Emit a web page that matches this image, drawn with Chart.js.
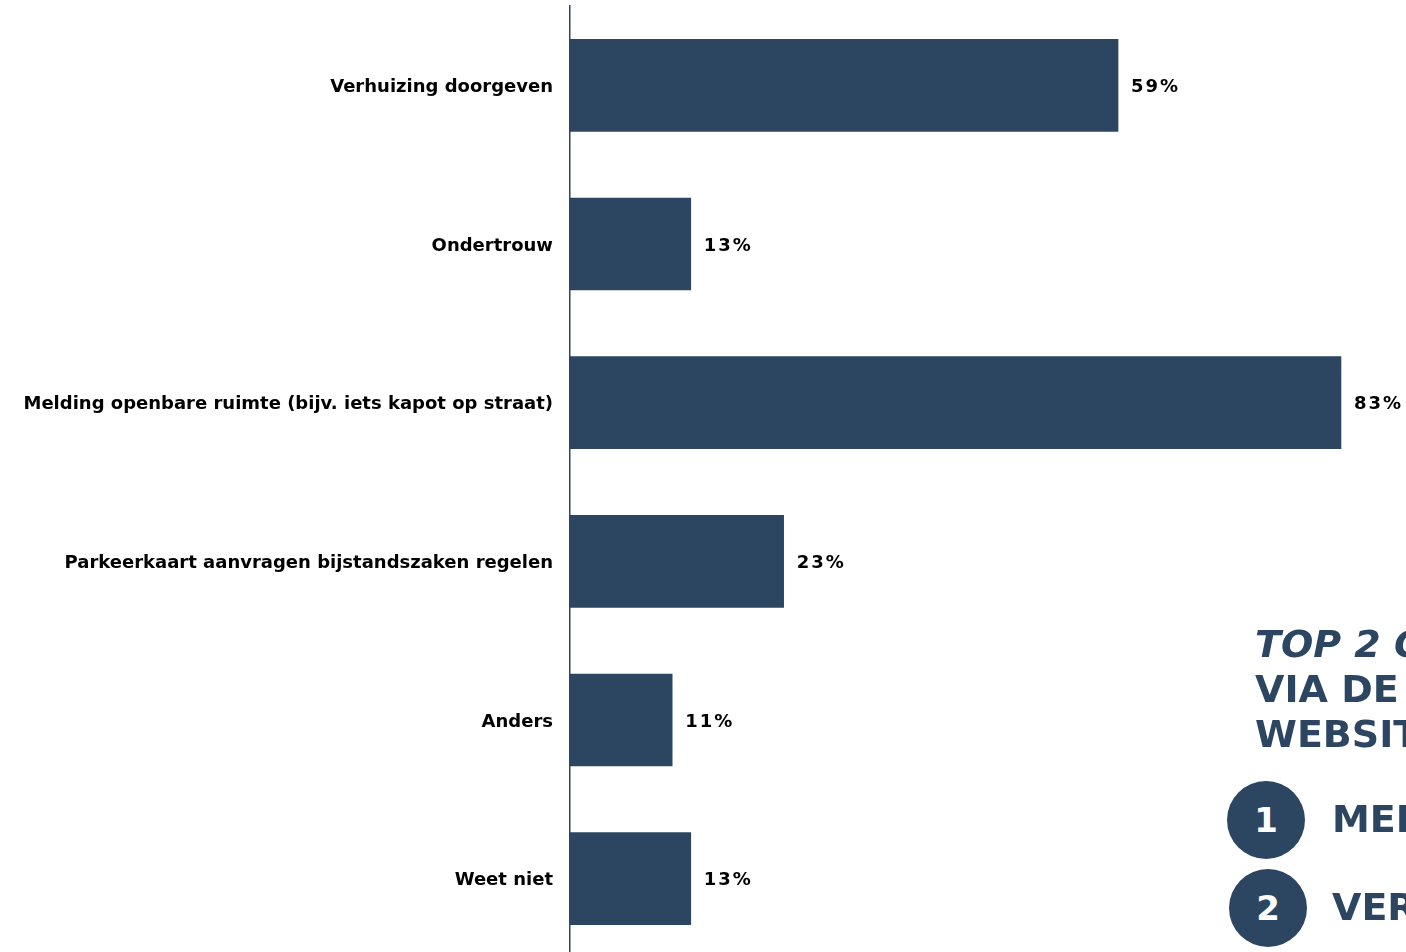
<!DOCTYPE html>
<html lang="nl">
<head>
  <meta charset="UTF-8">
  <title>Online geregeld</title>
  <script src="https://cdn.jsdelivr.net/npm/chart.js@4"></script>
  <style>
    html, body { margin: 0; padding: 0; background: #fff; overflow: hidden; }
    .wrap { position: relative; width: 1406px; height: 952px; overflow: hidden; }
    #chart { position: absolute; left: 0; top: 0; }
    .side { position: absolute; font-family: "DejaVu Sans", Verdana, sans-serif; font-weight: bold; color: #2c4661; white-space: nowrap; }
    .title { left: 1255px; top: 622px; font-size: 38px; line-height: 45px; }
    .title i { font-style: italic; }
    .dot { position: absolute; width: 78px; height: 78px; border-radius: 50%; background: #2c4661; color: #fff; font-size: 34px; line-height: 78px; text-align: center; }
    .item { font-size: 38px; }
  </style>
</head>
<body>
  <div class="wrap">
    <canvas id="chart" width="1406" height="958"></canvas>
    <div class="side title"><i>TOP 2 GEMELD</i><br>VIA DE<br>WEBSITE</div>
    <div class="side dot" style="left:1227px; top:781px;">1</div>
    <div class="side item" style="left:1332px; top:797px;">MELDING OPENBARE RUIMTE</div>
    <div class="side dot" style="left:1229px; top:869px;">2</div>
    <div class="side item" style="left:1332px; top:885px;">VERHUIZING DOORGEVEN</div>
  </div>
  <script>
    const categories = [
      'Verhuizing doorgeven',
      'Ondertrouw',
      'Melding openbare ruimte (bijv. iets kapot op straat)',
      'Parkeerkaart aanvragen bijstandszaken regelen',
      'Anders',
      'Weet niet'
    ];
    const values = [59, 13, 83, 23, 11, 13];
    const barColor = '#2c4661';
    const fontFamily = '"DejaVu Sans", Verdana, sans-serif';

    // labels at the end of each bar
    const valueLabels = {
      id: 'valueLabels',
      afterDatasetsDraw(chart) {
        const ctx = chart.ctx;
        const meta = chart.getDatasetMeta(0);
        ctx.save();
        ctx.font = 'bold 18px ' + fontFamily;
        ctx.letterSpacing = '2px';
        ctx.fillStyle = '#000';
        ctx.textBaseline = 'middle';
        meta.data.forEach((bar, i) => {
          ctx.fillText(values[i] + '%', bar.x + 13, bar.y + 2);
        });
        ctx.restore();
      }
    };

    new Chart(document.querySelector('#chart'), {
      type: 'bar',
      data: {
        labels: categories,
        datasets: [{
          data: values,
          backgroundColor: barColor,
          barThickness: 92
        }]
      },
      options: {
        indexAxis: 'y',
        responsive: false,
        animation: false,
        layout: { padding: { top: 6, right: 0, bottom: 0, left: 0 } },
        plugins: { legend: { display: false }, tooltip: { enabled: false } },
        scales: {
          x: { display: false, min: 0, max: 90 },
          y: {
            grid: { display: false, drawTicks: false },
            border: { display: true, color: barColor, width: 1.5 },
            ticks: {
              color: '#000',
              padding: 17,
              labelOffset: 2,
              font: { family: fontFamily, size: 18, weight: 'bold' }
            },
            afterFit(scale) {
              scale.width = 570;
              scale.paddingTop = 0;
              scale.paddingBottom = 0;
            }
          }
        }
      },
      plugins: [valueLabels]
    });
  </script>
</body>
</html>
